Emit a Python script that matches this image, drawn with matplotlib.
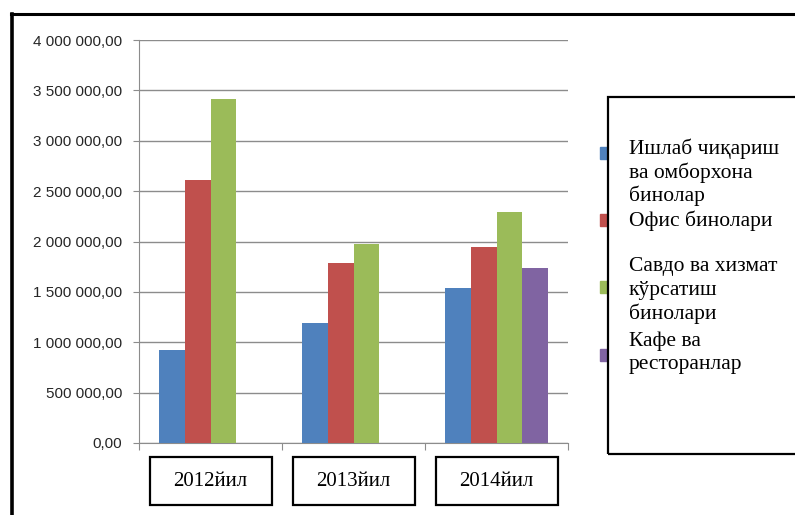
import matplotlib
matplotlib.use("Agg")
import matplotlib.pyplot as plt
import matplotlib.transforms as mtransforms
from matplotlib.patches import Rectangle
from matplotlib.lines import Line2D
from matplotlib.ticker import FuncFormatter
import numpy as np

years = ["2012йил", "2013йил", "2014йил"]
series_names = ["Ишлаб чиқариш\nва омборхона\nбинолар",
                "Офис бинолари",
                "Савдо ва хизмат\nкўрсатиш\nбинолари",
                "Кафе ва\nресторанлар"]
industry = [920000, 1190000, 1540000]
office = [2610000, 1790000, 1950000]
trade = [3410000, 1980000, 2290000]
cafe = [0, 0, 1740000]
colors = ["#4F81BD", "#C0504D", "#9BBB59", "#8064A2"]

W, H = 795, 515
fig = plt.figure(figsize=(W / 100, H / 100), dpi=100)
ax = fig.add_axes([139 / W, 1 - 443 / H, (568 - 139) / W, (443 - 40) / H])

x = np.arange(len(years))
bw = 0.179
for i, vals in enumerate([industry, office, trade, cafe]):
    ax.bar(x + (i - 1.5) * bw, vals, bw, color=colors[i], zorder=3)

ax.set_xlim(-0.5, 2.5)
ax.set_ylim(0, 4000000)
ax.set_yticks(np.arange(0, 4000001, 500000))


def fmt(v, pos):
    s = "{:,.2f}".format(v)
    return s.replace(",", " ").replace(".", ",")


ax.yaxis.set_major_formatter(FuncFormatter(fmt))
ax.set_xticks([-0.5, 0.5, 1.5, 2.5])
ax.set_xticklabels([])
ax.grid(axis="y", color="#8c8c8c", lw=1, zorder=0)
for s in ["top", "right"]:
    ax.spines[s].set_visible(False)
for s in ["left", "bottom"]:
    ax.spines[s].set_color("#8c8c8c")
ax.tick_params(axis="y", length=4, color="#8c8c8c", labelsize=11, pad=8,
               labelcolor="#262626")
ax.tick_params(axis="x", length=5, color="#8c8c8c")
for lab in ax.get_yticklabels():
    lab.set_family("Liberation Sans")

# category boxes below axis
trans = mtransforms.blended_transform_factory(ax.transData, fig.transFigure)
bx_w = 122 / 143
for i, name in enumerate(years):
    ax.add_patch(Rectangle((x[i] - bx_w / 2, 1 - 505 / H), bx_w, 48 / H,
                           transform=trans, fill=False, ec="black", lw=1.6,
                           clip_on=False))
    ax.text(x[i], 1 - 481 / H, name, transform=trans, ha="center", va="center",
            fontsize=15, family="Liberation Serif")

# legend box
fig.patches.append(Rectangle((608 / W, 1 - 454 / H), 200 / W, (454 - 96.5) / H,
                             transform=fig.transFigure, fill=False, ec="black",
                             lw=1.6, zorder=5))
first_lines = [149, 221, 267, 341]
marker_y = [152.5, 220, 287, 355]
for i, name in enumerate(series_names):
    fig.patches.append(Rectangle((600 / W, 1 - (marker_y[i] + 6) / H), 7 / W, 12 / H,
                                 transform=fig.transFigure, color=colors[i], zorder=4))
    for j, line in enumerate(name.split("\n")):
        fig.text(629 / W, 1 - (first_lines[i] + j * 23.5) / H, line, ha="left",
                 va="center", fontsize=15.5, family="Liberation Serif")

# outer frame
fig.add_artist(Line2D([11 / W, 1.0], [1 - 14 / H, 1 - 14 / H], color="black", lw=2.2))
fig.add_artist(Line2D([12 / W, 12 / W], [1 - 14 / H, 0], color="black", lw=2.6))

fig.savefig("out.png", dpi=100)
